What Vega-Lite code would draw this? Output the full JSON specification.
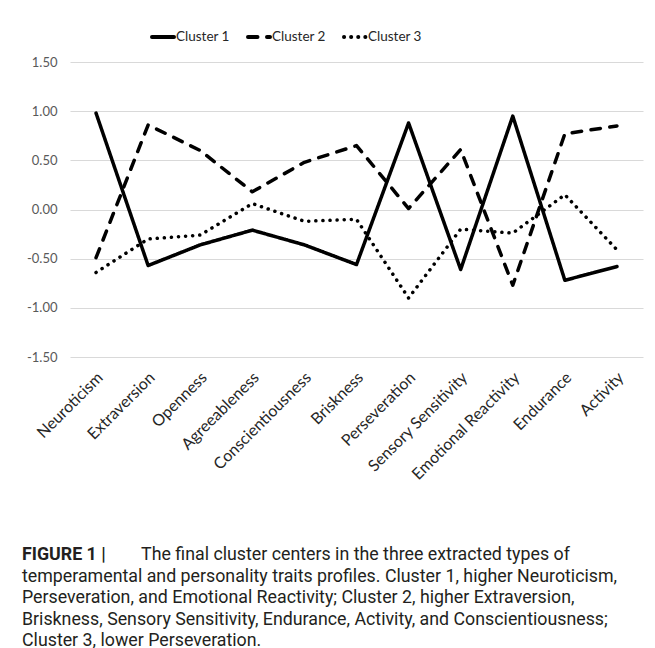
{
  "$schema": "https://vega.github.io/schema/vega-lite/v6.json",
  "autosize": {"type": "none"},
  "width": 573,
  "height": 295,
  "padding": {"left": 70, "top": 62, "right": 12, "bottom": 291},
  "background": "white",
  "title": {
    "text": "FIGURE 1 |",
    "subtitle": [
      "\u200b\u00a0\u00a0\u00a0\u00a0\u00a0\u00a0\u00a0\u00a0\u00a0\u00a0\u00a0\u00a0\u00a0\u00a0\u00a0\u00a0\u00a0\u00a0\u00a0\u00a0\u00a0\u00a0\u00a0\u00a0\u00a0\u00a0\u00a0The final cluster centers in the three extracted types of",
      "temperamental and personality traits profiles. Cluster 1, higher Neuroticism,",
      "Perseveration, and Emotional Reactivity; Cluster 2, higher Extraversion,",
      "Briskness, Sensory Sensitivity, Endurance, Activity, and Conscientiousness;",
      "Cluster 3, lower Perseveration."
    ],
    "orient": "bottom",
    "anchor": "start",
    "frame": "group",
    "dx": -48,
    "offset": 64,
    "font": "Roboto",
    "fontSize": 17.8,
    "fontWeight": "bold",
    "color": "#231f20",
    "subtitleFont": "Roboto",
    "subtitleFontSize": 17.8,
    "subtitleColor": "#231f20",
    "subtitleLineHeight": 21.5,
    "subtitlePadding": -17.8
  },
  "data": {
    "values": [
      {"trait": "Neuroticism", "cluster": "Cluster 1", "value": 0.98},
      {"trait": "Extraversion", "cluster": "Cluster 1", "value": -0.57},
      {"trait": "Openness", "cluster": "Cluster 1", "value": -0.36},
      {"trait": "Agreeableness", "cluster": "Cluster 1", "value": -0.21},
      {"trait": "Conscientiousness", "cluster": "Cluster 1", "value": -0.36},
      {"trait": "Briskness", "cluster": "Cluster 1", "value": -0.56},
      {"trait": "Perseveration", "cluster": "Cluster 1", "value": 0.88},
      {"trait": "Sensory Sensitivity", "cluster": "Cluster 1", "value": -0.61},
      {"trait": "Emotional Reactivity", "cluster": "Cluster 1", "value": 0.95},
      {"trait": "Endurance", "cluster": "Cluster 1", "value": -0.72},
      {"trait": "Activity", "cluster": "Cluster 1", "value": -0.58},
      {"trait": "Neuroticism", "cluster": "Cluster 2", "value": -0.49},
      {"trait": "Extraversion", "cluster": "Cluster 2", "value": 0.86},
      {"trait": "Openness", "cluster": "Cluster 2", "value": 0.6},
      {"trait": "Agreeableness", "cluster": "Cluster 2", "value": 0.18},
      {"trait": "Conscientiousness", "cluster": "Cluster 2", "value": 0.48},
      {"trait": "Briskness", "cluster": "Cluster 2", "value": 0.65},
      {"trait": "Perseveration", "cluster": "Cluster 2", "value": 0.01},
      {"trait": "Sensory Sensitivity", "cluster": "Cluster 2", "value": 0.61},
      {"trait": "Emotional Reactivity", "cluster": "Cluster 2", "value": -0.77},
      {"trait": "Endurance", "cluster": "Cluster 2", "value": 0.77},
      {"trait": "Activity", "cluster": "Cluster 2", "value": 0.85},
      {"trait": "Neuroticism", "cluster": "Cluster 3", "value": -0.64},
      {"trait": "Extraversion", "cluster": "Cluster 3", "value": -0.3},
      {"trait": "Openness", "cluster": "Cluster 3", "value": -0.26},
      {"trait": "Agreeableness", "cluster": "Cluster 3", "value": 0.06},
      {"trait": "Conscientiousness", "cluster": "Cluster 3", "value": -0.12},
      {"trait": "Briskness", "cluster": "Cluster 3", "value": -0.1},
      {"trait": "Perseveration", "cluster": "Cluster 3", "value": -0.9},
      {"trait": "Sensory Sensitivity", "cluster": "Cluster 3", "value": -0.2},
      {"trait": "Emotional Reactivity", "cluster": "Cluster 3", "value": -0.24},
      {"trait": "Endurance", "cluster": "Cluster 3", "value": 0.15},
      {"trait": "Activity", "cluster": "Cluster 3", "value": -0.41}
    ]
  },
  "mark": {"type": "line", "color": "black", "strokeWidth": 3.5, "strokeCap": "round", "strokeJoin": "round"},
  "encoding": {
    "x": {
      "field": "trait",
      "type": "nominal",
      "sort": ["Neuroticism", "Extraversion", "Openness", "Agreeableness", "Conscientiousness", "Briskness", "Perseveration", "Sensory Sensitivity", "Emotional Reactivity", "Endurance", "Activity"],
      "scale": {"type": "point", "padding": 0.5},
      "axis": {
        "title": null,
        "labelAngle": -45,
        "labelFont": "Lato",
        "labelFontSize": 16,
        "labelColor": "#262626",
        "labelPadding": 12,
        "labelOffset": -2,
        "ticks": false,
        "domain": false,
        "grid": false
      }
    },
    "y": {
      "field": "value",
      "type": "quantitative",
      "scale": {"domain": [-1.5, 1.5], "nice": false, "zero": false},
      "axis": {
        "title": null,
        "values": [-1.5, -1, -0.5, 0, 0.5, 1, 1.5],
        "labelExpr": "replace(format(datum.value, '.2f'), '\u2212', '-')",
        "labelFont": "Lato",
        "labelFontSize": 13,
        "labelColor": "#595959",
        "labelPadding": 13,
        "ticks": false,
        "tickSize": 0,
        "domain": false,
        "grid": true,
        "gridColor": "#d9d9d9",
        "gridWidth": 1
      }
    },
    "strokeDash": {
      "field": "cluster",
      "type": "nominal",
      "scale": {"domain": ["Cluster 1", "Cluster 2", "Cluster 3"], "range": [[1, 0], [9.5, 9.5], [0.1, 7]]},
      "legend": {
        "title": null,
        "orient": "none",
        "direction": "horizontal",
        "legendX": 80,
        "legendY": -38,
        "symbolType": "stroke",
        "symbolSize": 484,
        "symbolStrokeWidth": 4,
        "symbolStrokeColor": "black",
        "labelFont": "Lato",
        "labelFontSize": 13.5,
        "labelColor": "#262626",
        "labelOffset": 0,
        "columnPadding": 10,
        "encode": {
          "symbols": {
            "update": {
              "strokeCap": {"value": "round"},
              "strokeDash": {"signal": "datum.value === 'Cluster 2' ? [6, 8] : datum.value === 'Cluster 3' ? [0.1, 8] : [1, 0]"}
            }
          }
        }
      }
    }
  },
  "config": {"view": {"stroke": null}}
}
